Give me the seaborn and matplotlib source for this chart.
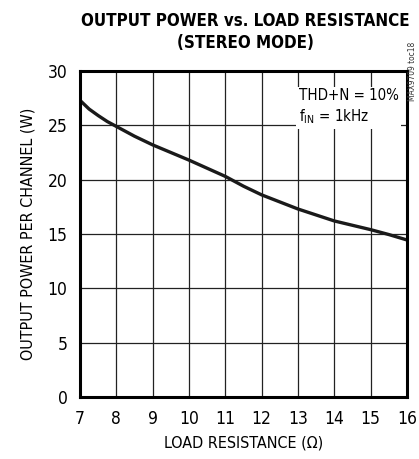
import numpy as np
import pandas as pd
import matplotlib
matplotlib.use("Agg")
import matplotlib.pyplot as plt
import seaborn as sns

# curve
load_ohm = [7, 7.25, 7.5, 7.75, 8, 8.5, 9, 9.5, 10, 10.5, 11, 11.5, 12, 12.5, 13, 13.5, 14, 14.5, 15, 15.5, 16]
power_w = [27.3, 26.5, 25.9, 25.35, 24.9, 24.0, 23.2, 22.5, 21.8, 21.05, 20.3, 19.4, 18.6, 17.95, 17.3, 16.75, 16.2, 15.8, 15.4, 14.95, 14.45]

x_ticks = [7, 8, 9, 10, 11, 12, 13, 14, 15, 16]
y_ticks = [0, 5, 10, 15, 20, 25, 30]

df = pd.DataFrame({"load": load_ohm, "power": power_w})

sns.set_style("white")
plt.rcParams['font.family'] = ['DejaVu Sans']
plt.rcParams['font.stretch'] = 'condensed'
plt.rcParams['text.color'] = 'black'
plt.rcParams['xtick.color'] = 'black'
plt.rcParams['ytick.color'] = 'black'
plt.rcParams['axes.labelcolor'] = 'black'

fig = plt.figure(figsize=(4.19, 4.59), dpi=100)
ax = fig.add_axes([80 / 419, 1 - 397 / 459, 327 / 419, 326 / 459])

sns.lineplot(data=df, x="load", y="power", ax=ax, color="#1a1a1a", lw=2.4)

ax.set_xlim(7, 16)
ax.set_ylim(0, 30)
ax.set_xticks(x_ticks)
ax.set_yticks(y_ticks)
ax.tick_params(axis="both", length=0, labelsize=12.5, pad=9)
ax.grid(True, color="#222222", lw=0.9)
for s in ax.spines.values():
    s.set_linewidth(2.2)
    s.set_color("black")

ax.set_xlabel("LOAD RESISTANCE (\u03a9)", fontsize=11.5, labelpad=6)
ax.set_ylabel("OUTPUT POWER PER CHANNEL (W)", fontsize=11.5, labelpad=9)

fig.text(0.585, 0.955, "OUTPUT POWER vs. LOAD RESISTANCE", ha="center", va="center",
         fontsize=12.2, fontweight="heavy")
fig.text(0.585, 0.907, "(STEREO MODE)", ha="center", va="center",
         fontsize=12.2, fontweight="heavy")

ax.text(13.02, 28.45, "THD+N = 10%\nf$_{\\rm IN}$ = 1kHz", ha="left", va="top",
        fontsize=10.8, linespacing=1.3,
        bbox=dict(facecolor="white", edgecolor="none", pad=2))

fig.text(0.985, 0.845, "MAX9709 toc18", rotation=90, ha="center", va="center",
         fontsize=6, color="#333333")

fig.savefig("out.png", dpi=100)
